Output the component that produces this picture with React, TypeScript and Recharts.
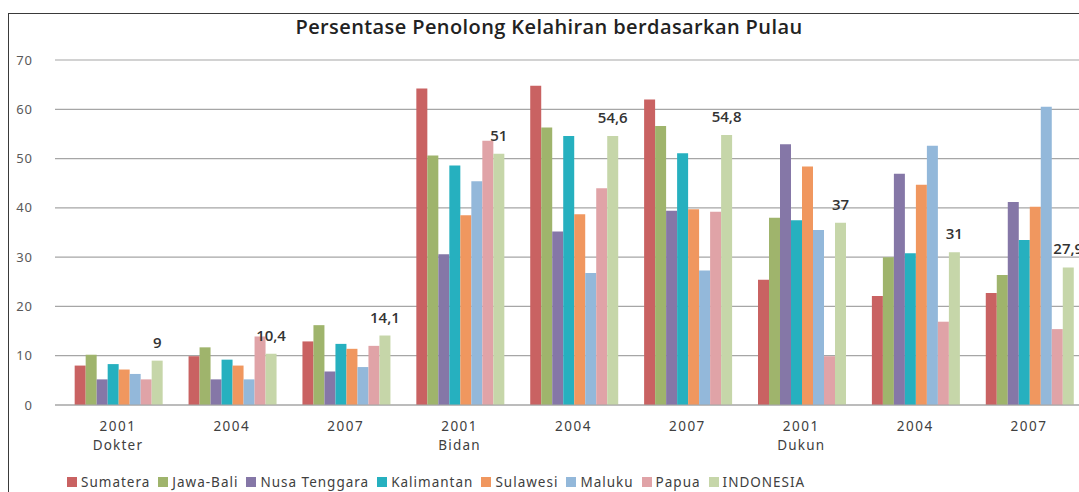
import { BarChart, Bar, XAxis, YAxis, CartesianGrid, LabelList } from 'recharts';

const years = ['2001', '2004', '2007', '2001', '2004', '2007', '2001', '2004', '2007'];
const groups = ['Dokter', '', '', 'Bidan', '', '', 'Dukun', '', ''];

const sumatera = [8.0, 9.9, 12.9, 64.2, 64.8, 62.0, 25.4, 22.1, 22.7];
const jawaBali = [10.2, 11.7, 16.2, 50.6, 56.3, 56.6, 38.0, 30.0, 26.4];
const nusaTenggara = [5.2, 5.2, 6.8, 30.6, 35.2, 39.4, 52.9, 46.9, 41.2];
const kalimantan = [8.3, 9.2, 12.4, 48.6, 54.6, 51.1, 37.5, 30.8, 33.5];
const sulawesi = [7.2, 8.0, 11.4, 38.5, 38.7, 39.7, 48.4, 44.7, 40.2];
const maluku = [6.3, 5.2, 7.7, 45.4, 26.8, 27.3, 35.5, 52.6, 60.5];
const papua = [5.2, 13.9, 12.0, 53.6, 44.0, 39.2, 9.9, 16.9, 15.4];
const indonesia = [9, 10.4, 14.1, 51, 54.6, 54.8, 37, 31, 27.9];

const yTicks = [0, 10, 20, 30, 40, 50, 60, 70];

const series = [
  { key: 'Sumatera', values: sumatera, color: '#C96262' },
  { key: 'Jawa-Bali', values: jawaBali, color: '#9FB46C' },
  { key: 'Nusa Tenggara', values: nusaTenggara, color: '#8577A7' },
  { key: 'Kalimantan', values: kalimantan, color: '#26B0BF' },
  { key: 'Sulawesi', values: sulawesi, color: '#F0975F' },
  { key: 'Maluku', values: maluku, color: '#93B8DA' },
  { key: 'Papua', values: papua, color: '#E0A3A7' },
  { key: 'INDONESIA', values: indonesia, color: '#C6D6A9' },
];

const data = years.map((year, i) => {
  const row: Record<string, string | number> = { cat: `${i}`, year, group: groups[i] };
  series.forEach((s) => {
    row[s.key] = s.values[i];
  });
  return row;
});

const font = '"Noto Sans", sans-serif';

const CategoryTick = (props: any) => {
  const { x, y, payload } = props;
  const i = Number(payload.value);
  return (
    <g>
      <text x={x} y={y + 18} textAnchor="middle" fill="#404040" fontSize={13.5} letterSpacing={1.5} fontFamily={font}>
        {years[i]}
      </text>
      {groups[i] && (
        <text x={x} y={y + 37} textAnchor="middle" fill="#404040" fontSize={13.5} letterSpacing={1.2} fontFamily={font}>
          {groups[i]}
        </text>
      )}
    </g>
  );
};

const App = () => {
  return (
    <div style={{ position: 'absolute', left: 0, top: 0, width: 1079, height: 492, overflow: 'hidden', background: '#fff' }}>
      {/* chart frame, cropped on the right and bottom */}
      <div style={{ position: 'absolute', left: 8, top: 13, width: 1200, height: 600, borderTop: '1px solid #3a3a3a', borderLeft: '1px solid #3a3a3a' }} />
      <div
        style={{
          position: 'absolute',
          left: 0,
          width: 1098,
          top: 13,
          textAlign: 'center',
          fontFamily: '"Open Sans", sans-serif',
          fontWeight: 600,
          fontSize: 20,
          letterSpacing: 0.4,
          color: '#222',
        }}
      >
        Persentase Penolong Kelahiran berdasarkan Pulau
      </div>
      <div style={{ position: 'absolute', left: 0, top: 0 }}>
        <BarChart width={1090} height={492} data={data} margin={{ top: 60, right: 4, bottom: 42, left: 0 }} barCategoryGap="12%" barGap={0}>
          <CartesianGrid vertical={false} stroke="#A6A6A6" strokeWidth={1.2} />
          <XAxis
            dataKey="cat"
            height={45}
            axisLine={{ stroke: '#A6A6A6', strokeWidth: 1.2 }}
            tickLine={false}
            tick={<CategoryTick />}
            interval={0}
            padding={{ left: 6, right: 0 }}
          />
          <YAxis
            width={55}
            domain={[0, 70]}
            ticks={yTicks}
            axisLine={false}
            tickLine={false}
            tickSize={0}
            tickMargin={22}
            tick={{ fill: '#595959', fontSize: 13, fontFamily: font, letterSpacing: 1 }}
          />
          {series.map((s) => (
            <Bar key={s.key} dataKey={s.key} fill={s.color} isAnimationActive={false}>
              {s.key === 'INDONESIA' && (
                <LabelList
                  dataKey={s.key}
                  position="top"
                  offset={13}
                  formatter={(v: any) => String(v).replace('.', ',')}
                  style={{ fill: '#333', fontSize: 15, fontWeight: 600, fontFamily: '"Open Sans", sans-serif' }}
                />
              )}
            </Bar>
          ))}
        </BarChart>
      </div>
      <div
        style={{
          position: 'absolute',
          left: 67,
          top: 473,
          display: 'flex',
          alignItems: 'center',
          fontFamily: font,
          fontSize: 13.5,
          letterSpacing: 1,
          color: '#404040',
          whiteSpace: 'nowrap',
        }}
      >
        {series.map((s) => (
          <div key={s.key} style={{ display: 'flex', alignItems: 'center', marginRight: 8 }}>
            <span style={{ display: 'inline-block', width: 10, height: 10, background: s.color, marginRight: 4 }} />
            <span>{s.key}</span>
          </div>
        ))}
      </div>
    </div>
  );
};

export default App;
